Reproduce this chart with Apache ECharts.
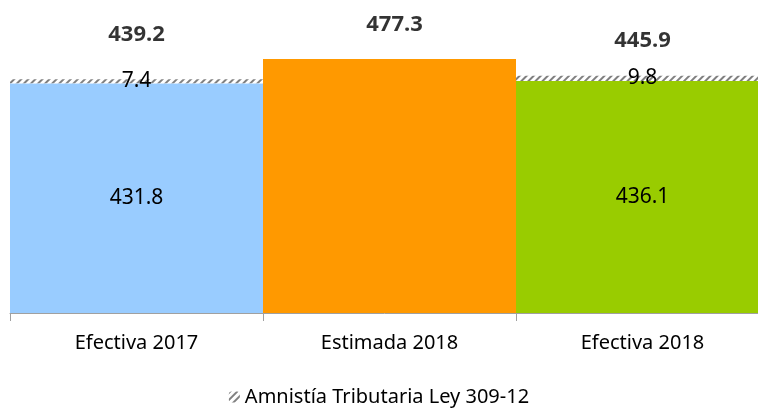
<!DOCTYPE html>
<html>
<head>
<meta charset="utf-8">
<script src="https://cdn.jsdelivr.net/npm/echarts@6/dist/echarts.min.js"></script>
<style>
    html, body {margin: 0; padding: 0; background: #fff;}
    #chart {width: 758px; height: 415px;}
</style>
</head>
<body>
<div id="chart"></div>
<script>
// datos del grafico
var categories = ['Efectiva 2017', 'Estimada 2018', 'Efectiva 2018'];
var baseValues = [431.8, 477.3, 436.1];
var amnistiaValues = [7.4, '-', 9.8];
var totalValues = [439.2, 477.3, 445.9];
var barColors = ['#99ccff', '#ff9900', '#99cc00'];

var font = 'Noto Sans';

var hatch = {
    color: '#808080',
    backgroundColor: '#ffffff',
    dashArrayX: [1, 0],
    dashArrayY: [2, 3],
    rotation: -Math.PI / 4
};

// etiquetas de total, desplazadas a mano como en el original
var totalOffsets = [[0, -29], [5, -18], [0, -19]];

var option = {
    animation: false,
    textStyle: {fontFamily: font},
    grid: {left: 10, width: 759, top: 59, bottom: 102, outerBoundsMode: 'none', containLabel: false},
    legend: {
        data: ['Amnistía Tributaria Ley 309-12'],
        bottom: 3,
        left: 'center',
        itemWidth: 11,
        itemHeight: 11,
        itemGap: 4,
        textStyle: {fontFamily: font, fontSize: 20, color: '#000'}
    },
    xAxis: {
        type: 'category',
        data: categories,
        axisLine: {lineStyle: {color: '#a0a0a0', width: 1}},
        axisTick: {show: true, length: 8, lineStyle: {color: '#a0a0a0'}},
        axisLabel: {fontFamily: font, fontSize: 20, color: '#000', margin: 20}
    },
    yAxis: {
        type: 'value',
        min: 0,
        max: 477.3,
        show: false,
        splitLine: {show: false}
    },
    series: [
        {
            name: 'Base',
            type: 'bar',
            stack: 'total',
            barCategoryGap: '0%',
            data: baseValues.map(function (v, i) {
                return {
                    value: v,
                    itemStyle: {color: barColors[i]},
                    label: {show: i !== 1}
                };
            }),
            label: {
                position: 'inside',
                fontFamily: font,
                fontSize: 21,
                color: '#000'
            }
        },
        {
            name: 'Amnistía Tributaria Ley 309-12',
            type: 'bar',
            stack: 'total',
            barCategoryGap: '0%',
            data: amnistiaValues,
            itemStyle: {color: '#ffffff', decal: hatch},
            label: {
                show: true,
                position: 'inside',
                fontFamily: font,
                fontSize: 21,
                color: '#000'
            }
        },
        {
            name: 'Total',
            type: 'scatter',
            symbolSize: 0,
            data: totalValues.map(function (v, i) {
                return {value: v, label: {offset: totalOffsets[i]}};
            }),
            label: {
                show: true,
                position: 'top',
                fontFamily: font,
                fontSize: 22,
                fontWeight: 'bold',
                color: '#000'
            }
        }
    ]
};

echarts.init(document.getElementById('chart')).setOption(option);
</script>
</body>
</html>
